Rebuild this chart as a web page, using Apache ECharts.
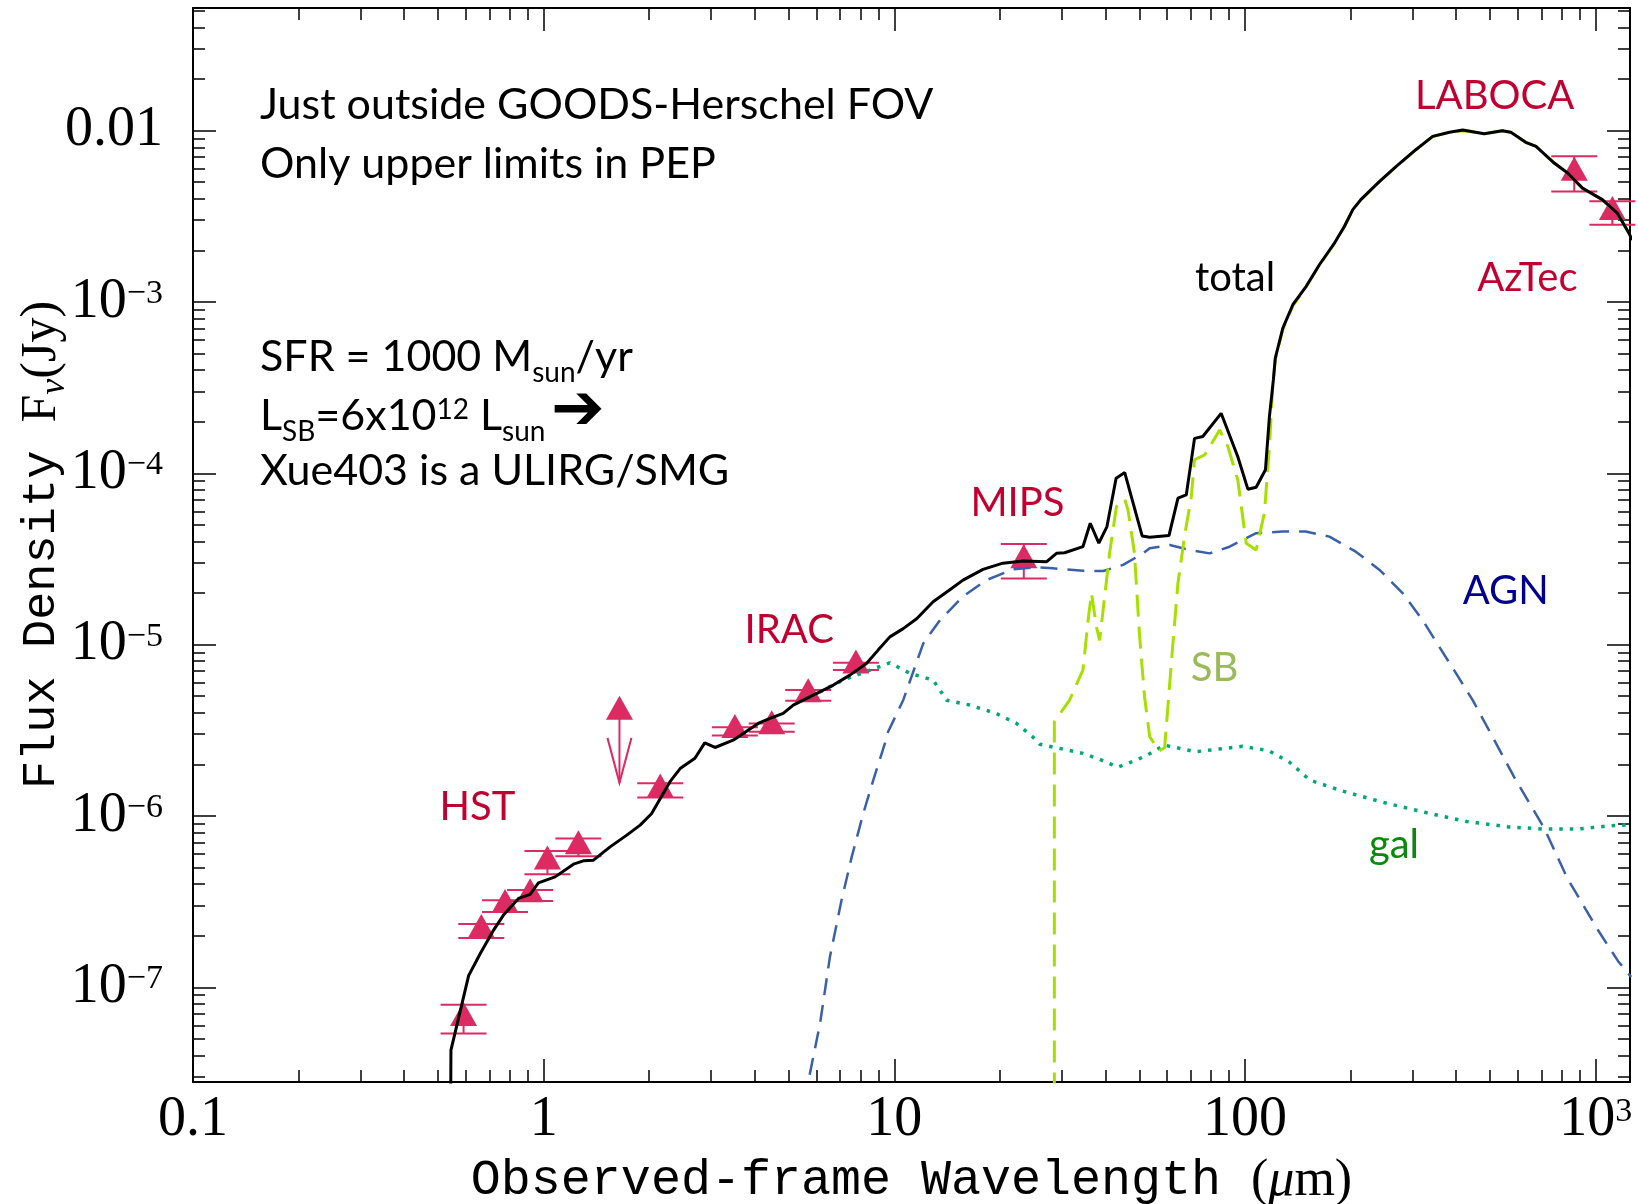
<!DOCTYPE html>
<html>
<head>
<meta charset="utf-8">
<script src="https://cdn.jsdelivr.net/npm/echarts@6.0.0/dist/echarts.min.js"></script>
<style>
html, body { margin: 0; padding: 0; background: #fff; }
#main { width: 1639px; height: 1204px; }
</style>
</head>
<body>
<div id="main"></div>
<script>
// axis ranges (wavelength in micron, flux density in Jy)
const xMin = 0.1, xMax = 1253;
const yMin = 2.8e-8, yMax = 0.052;

const xTickValues = [0.1, 1, 10, 100, 1000];
const xTickLabels = ['0.1', '1', '10', '100', '10{sup|3}'];
const yTickValues = [1e-7, 1e-6, 1e-5, 1e-4, 1e-3, 0.01];
const yTickLabels = ['10{sup|−7}', '10{sup|−6}', '10{sup|−5}', '10{sup|−4}', '10{sup|−3}', '0.01'];

// total model
const totalWave = [0.542, 0.544, 0.611, 0.659, 0.719, 0.768, 0.848, 0.915, 0.966, 1.078, 1.216, 1.298, 1.387,
  1.547, 1.726, 1.884, 2.03, 2.29, 2.45, 2.70, 2.88, 3.08, 3.47, 4.09, 4.42, 4.82, 5.15, 5.74, 6.70, 7.47,
  8.34, 8.99, 9.71, 10.6, 11.6, 12.9, 14.4, 15.7, 17.9, 20.4, 23.3, 27.2, 29.0, 30.6, 34.5, 36.2, 38.3,
  40.4, 42.9, 45.4, 50.9, 53.5, 60.7, 64.4, 68.0, 71.8, 75.8, 85.5, 95.4, 101.9, 107.6, 114.4, 117.4,
  120.5, 122, 128.2, 136.9, 149.3, 163, 180, 192, 203, 214, 242, 270, 307, 343, 383, 418, 481, 542, 573,
  632, 676, 762, 832, 917, 1045, 1153, 1245, 1270];
const totalFlux = [1e-8, 4.3e-8, 1.17e-7, 1.57e-7, 2.15e-7, 2.64e-7, 3.30e-7, 3.49e-7, 4.07e-7, 4.41e-7, 5.23e-7, 5.47e-7, 5.52e-7,
  6.60e-7, 7.73e-7, 8.84e-7, 1.03e-6, 1.58e-6, 1.89e-6, 2.17e-6, 2.67e-6, 2.51e-6, 2.77e-6, 3.47e-6, 3.71e-6, 3.97e-6, 4.44e-6, 4.96e-6, 5.81e-6, 6.64e-6,
  7.78e-6, 9.29e-6, 1.11e-5, 1.24e-5, 1.42e-5, 1.78e-5, 2.09e-5, 2.38e-5, 2.75e-5, 2.99e-5, 3.08e-5, 3.05e-5, 3.41e-5, 3.44e-5, 3.73e-5, 5.11e-5, 3.91e-5,
  4.89e-5, 9.36e-5, 1.01e-4, 4.31e-5, 4.23e-5, 4.33e-5, 7.16e-5, 7.48e-5, 1.60e-4, 1.64e-4, 2.24e-4, 1.25e-4, 8.08e-5, 8.29e-5, 1.05e-4, 2.14e-4,
  3.52e-4, 4.70e-4, 7.04e-4, 9.64e-4, 1.23e-3, 1.65e-3, 2.21e-3, 2.76e-3, 3.46e-3, 3.96e-3, 5.06e-3, 6.18e-3, 7.74e-3, 9.26e-3, 9.78e-3, 1.01e-2, 9.6e-3, 1.00e-2, 9.78e-3,
  8.55e-3, 8.10e-3, 6.47e-3, 5.66e-3, 4.62e-3, 3.96e-3, 3.30e-3, 2.52e-3, 2.30e-3];

// AGN component
const agnWave = [5.55, 5.68, 6.14, 6.55, 7.07, 7.56, 8.15, 8.71, 9.40, 9.60, 10.6, 12.1, 13.5, 15.7, 18.3, 21.8,
  25.4, 28.3, 34.5, 39.4, 44.9, 51.2, 53.5, 61.0, 69.5, 79.3, 90.4, 107.6, 128, 149, 174, 207, 242, 282,
  321, 358, 400, 446, 508, 589, 713, 830, 1015, 1159, 1262];
const agnFlux = [1.5e-8, 2.8e-8, 6.14e-8, 1.50e-7, 3.22e-7, 5.77e-7, 1.03e-6, 1.62e-6, 2.65e-6, 3.10e-6, 4.74e-6, 1.02e-5, 1.39e-5, 1.91e-5, 2.38e-5, 2.75e-5,
  2.83e-5, 2.79e-5, 2.70e-5, 2.69e-5, 2.92e-5, 3.41e-5, 3.65e-5, 3.82e-5, 3.57e-5, 3.41e-5, 3.73e-5, 4.47e-5, 4.57e-5, 4.57e-5, 4.27e-5, 3.49e-5, 2.73e-5, 1.99e-5,
  1.39e-5, 9.73e-6, 6.79e-6, 4.74e-6, 2.90e-6, 1.65e-6, 8.5e-7, 4.34e-7, 2.16e-7, 1.42e-7, 1.15e-7];

// starburst component
const sbWave = [28.6, 28.6, 31.6, 34.5, 35.7, 36.5, 37.7, 38.5, 39.8, 41.1, 43.0, 45.4, 46.4, 48.4, 50.0, 51.7,
  53.5, 56.9, 59.0, 62.0, 64.4, 67.5, 70.3, 71.8, 76.7, 84.7, 89.4, 95.4, 100.8, 107.6, 113.6, 117.4, 120.0,
  122, 128.2, 136.9, 149.3, 163, 180, 192, 203, 214, 242, 270, 307, 343, 383, 418, 481, 542, 573, 632, 676,
  762, 832, 917, 1045, 1153, 1245, 1270];
const sbFlux = [1e-8, 3.55e-6, 4.74e-6, 7.11e-6, 1.39e-5, 2.00e-5, 1.27e-5, 1.06e-5, 1.91e-5, 3.41e-5, 6.39e-5, 7.06e-5, 6.11e-5, 3.41e-5, 1.16e-5, 4.97e-6,
  2.90e-6, 2.40e-6, 2.5e-6, 9e-6, 2.3e-5, 4.5e-5, 7.3e-5, 1.20e-4, 1.28e-4, 1.79e-4, 1.43e-4, 9.14e-5, 3.91e-5, 3.57e-5, 5.85e-5, 1.43e-4, 3.21e-4,
  4.6e-4, 6.9e-4, 9.5e-4, 1.22e-3, 1.64e-3, 2.2e-3, 2.75e-3, 3.45e-3, 3.95e-3, 5.05e-3, 6.17e-3, 7.73e-3, 9.25e-3, 9.77e-3, 1.0e-2, 9.6e-3, 9.98e-3, 9.77e-3, 8.54e-3, 8.09e-3,
  6.46e-3, 5.65e-3, 4.61e-3, 3.95e-3, 3.29e-3, 2.51e-3, 2.29e-3];

// host galaxy component
const galWave = [5.74, 6.14, 7.14, 8.53, 9.71, 11.1, 12.9, 14.1, 16.4, 19.5, 22.3, 24.8, 26.0, 29.0, 34.5, 38.5,
  43.4, 49.0, 52.8, 58.9, 72.3, 98.4, 117, 134, 153, 189, 248, 326, 429, 565, 718, 881, 1082, 1260];
const galFlux = [4.96e-6, 5.31e-6, 6.21e-6, 7.11e-6, 7.83e-6, 6.79e-6, 6.21e-6, 4.74e-6, 4.44e-6, 3.97e-6, 3.47e-6, 2.9e-6, 2.62e-6, 2.5e-6, 2.32e-6, 2.14e-6,
  1.93e-6, 2.12e-6, 2.27e-6, 2.59e-6, 2.37e-6, 2.55e-6, 2.40e-6, 2.06e-6, 1.62e-6, 1.40e-6, 1.20e-6, 1.05e-6, 9.28e-7, 8.63e-7, 8.38e-7, 8.38e-7, 8.73e-7, 8.9e-7];

// photometry: HST, IRAC, MIPS, LABOCA, AzTec
const photWave = [0.591, 0.664, 0.776, 0.915, 1.025, 1.256, 2.15, 3.51, 4.47, 5.68, 7.77, 23.4, 869, 1116];
const photFlux = [6.53e-8, 2.13e-7, 2.98e-7, 3.44e-7, 5.35e-7, 6.56e-7, 1.41e-6, 3.13e-6, 3.29e-6, 5.06e-6, 7.46e-6, 3.07e-5, 5.61e-3, 3.31e-3];
const photLo = [5.37e-8, 1.94e-7, 2.75e-7, 3.19e-7, 4.57e-7, 5.82e-7, 1.28e-6, 2.95e-6, 3.10e-6, 4.70e-6, 7.11e-6, 2.43e-5, 4.42e-3, 2.82e-3];
const photHi = [7.9e-8, 2.34e-7, 3.22e-7, 3.70e-7, 6.25e-7, 7.38e-7, 1.55e-6, 3.3e-6, 3.47e-6, 5.43e-6, 7.83e-6, 3.87e-5, 7.08e-3, 3.87e-3];

// upper limit
const ulWave = [1.645];
const ulFlux = [4.0e-6];
const ulTip = [1.56e-6];

const SANS = 'Lato, "Open Sans", sans-serif';
const SERIF = '"Liberation Serif", "DejaVu Serif", serif';
const MONO = '"Liberation Mono", "DejaVu Sans Mono", monospace';
const MAGENTA = '#dc2a62';
const CRIMSON = '#c00030';
const CAP = 23;

function pairs(xs, ys) { return xs.map(function (x, i) { return [x, ys[i]]; }); }

function tickFormatter(values, labels) {
  return function (v) {
    for (let i = 0; i < values.length; i++) {
      if (Math.abs(Math.log10(v) - Math.log10(values[i])) < 1e-6) return labels[i];
    }
    return '';
  };
}

const axisLineStyle = { color: '#000', width: 2 };
const tickStyle = { color: '#000', width: 1.5 };

function baseAxis(extra) {
  return Object.assign({
    type: 'log', logBase: 10,
    axisLine: { show: true, onZero: false, lineStyle: axisLineStyle },
    axisTick: { show: true, inside: true, length: 23, lineStyle: tickStyle },
    minorTick: { show: true, splitNumber: 9, length: 12, lineStyle: tickStyle },
    splitLine: { show: false },
    minorSplitLine: { show: false }
  }, extra);
}

const labelRich = {
  sup: { fontFamily: SERIF, fontSize: 34, lineHeight: 30, padding: [0, 0, 16, 0], color: '#000' }
};

// baseline-anchored text (y given as glyph baseline)
function txt(x, baseline, text, size, color, align) {
  return {
    type: 'text', x: x, y: baseline + 4 - 0.387 * size, z: 100,
    style: { text: text, fontFamily: SANS, fontSize: size, fill: color, textAlign: align || 'left', verticalAlign: 'middle' }
  };
}

const noteRich = {
  a: { fontFamily: SANS, fontSize: 43, lineHeight: 60, color: '#000' },
  b: { fontFamily: SANS, fontSize: 28, lineHeight: 28, padding: [32, 0, 0, 0], color: '#000' },
  c: { fontFamily: SANS, fontSize: 28, lineHeight: 28, padding: [10, 0, 22, 0], color: '#000' }
};
function richTxt(x, baseline, text) {
  return {
    type: 'text', x: x, y: baseline + 4 - 0.387 * 43, z: 100,
    style: { text: text, rich: noteRich, textAlign: 'left', verticalAlign: 'middle' }
  };
}

const option = {
  animation: false,
  backgroundColor: '#fff',
  grid: { left: 193, top: 8, width: 1437, height: 1074, outerBoundsMode: 'none' },
  xAxis: [
    baseAxis({
      position: 'bottom', min: xMin, max: xMax,
      axisLabel: {
        formatter: tickFormatter(xTickValues, xTickLabels), margin: 8,
        fontFamily: SERIF, fontSize: 56, lineHeight: 60, color: '#000', rich: labelRich
      },
      name: '{tt|Observed-frame Wavelength }{rm|(}{it|μ}{rm|m)}',
      nameLocation: 'middle', nameGap: 71,
      nameTextStyle: {
        rich: {
          tt: { fontFamily: MONO, fontSize: 50, lineHeight: 56, color: '#000' },
          rm: { fontFamily: SERIF, fontSize: 52, lineHeight: 56, color: '#000' },
          it: { fontFamily: SERIF, fontStyle: 'italic', fontSize: 52, lineHeight: 56, color: '#000' }
        }
      }
    }),
    baseAxis({ position: 'top', min: xMin, max: xMax, axisLabel: { show: false } })
  ],
  yAxis: [
    baseAxis({
      position: 'left', min: yMin, max: yMax,
      axisLabel: {
        formatter: tickFormatter(yTickValues, yTickLabels), margin: 30,
        fontFamily: SERIF, fontSize: 56, lineHeight: 60, color: '#000', rich: labelRich
      },
      name: '{tt|Flux Density }{rm|F}{sub|ν}{rm|(Jy)}',
      nameLocation: 'middle', nameGap: 123, nameRotate: 90, nameMoveOverlap: false,
      nameTextStyle: {
        rich: {
          tt: { fontFamily: MONO, fontSize: 47, lineHeight: 56, color: '#000' },
          rm: { fontFamily: SERIF, fontSize: 50, lineHeight: 56, color: '#000' },
          sub: { fontFamily: SERIF, fontStyle: 'italic', fontSize: 36, lineHeight: 30, padding: [26, 0, 0, 0], color: '#000' }
        }
      }
    }),
    baseAxis({ position: 'right', min: yMin, max: yMax, axisLabel: { show: false } })
  ],
  series: [
    {
      name: 'gal', type: 'line', data: pairs(galWave, galFlux), symbol: 'none', silent: true,
      lineStyle: { color: '#00a878', width: 3.5, type: [3.5, 7] }
    },
    {
      name: 'AGN', type: 'line', data: pairs(agnWave, agnFlux), symbol: 'none', silent: true,
      lineStyle: { color: '#3a60a8', width: 2.5, type: [17, 10] }
    },
    {
      name: 'SB', type: 'line', data: pairs(sbWave, sbFlux), symbol: 'none', silent: true,
      lineStyle: { color: '#a6df00', width: 3, type: [22, 10] }
    },
    {
      name: 'errors', type: 'custom', silent: true,
      data: photWave.map(function (w, i) { return [w, photFlux[i], photLo[i], photHi[i]]; }),
      encode: { x: 0, y: [1, 2, 3] },
      renderItem: function (params, api) {
        const x = api.value(0);
        const pLo = api.coord([x, api.value(2)]);
        const pHi = api.coord([x, api.value(3)]);
        const st = { stroke: MAGENTA, lineWidth: 2 };
        return {
          type: 'group',
          children: [
            { type: 'line', shape: { x1: pLo[0], y1: pLo[1], x2: pHi[0], y2: pHi[1] }, style: st },
            { type: 'line', shape: { x1: pLo[0] - CAP, y1: pLo[1], x2: pLo[0] + CAP, y2: pLo[1] }, style: st },
            { type: 'line', shape: { x1: pHi[0] - CAP, y1: pHi[1], x2: pHi[0] + CAP, y2: pHi[1] }, style: st }
          ]
        };
      }
    },
    {
      name: 'upper limit', type: 'custom', silent: true,
      data: ulWave.map(function (w, i) { return [w, ulFlux[i], ulTip[i]]; }),
      encode: { x: 0, y: [1, 2] },
      renderItem: function (params, api) {
        const x = api.value(0);
        const p0 = api.coord([x, api.value(1)]);
        const p1 = api.coord([x, api.value(2)]);
        const st = { stroke: MAGENTA, lineWidth: 2, fill: null };
        return {
          type: 'group',
          children: [
            { type: 'line', shape: { x1: p0[0], y1: p0[1], x2: p1[0], y2: p1[1] }, style: st },
            { type: 'polyline', shape: { points: [[p1[0] - 12, p1[1] - 45], [p1[0], p1[1]], [p1[0] + 12, p1[1] - 45]] }, style: st }
          ]
        };
      }
    },
    {
      name: 'photometry', type: 'scatter', silent: true,
      data: pairs(photWave, photFlux).concat(pairs(ulWave, ulFlux)),
      symbol: 'triangle', symbolSize: [27, 24], symbolOffset: [0, -5],
      itemStyle: { color: MAGENTA, opacity: 1 }
    },
    {
      name: 'total', type: 'line', data: pairs(totalWave, totalFlux), symbol: 'none', silent: true,
      lineStyle: { color: '#000', width: 3 }
    }
  ],
  graphic: [
    txt(260, 118, 'Just outside GOODS-Herschel FOV', 43, '#000'),
    txt(260, 176.7, 'Only upper limits in PEP', 43, '#000'),
    richTxt(260, 370, '{a|SFR = 1000 M}{b|sun}{a|/yr}'),
    richTxt(260, 428.3, '{a|L}{b|SB}{a|=6x10}{c|12}{a| L}{b|sun}'),
    txt(260, 483.3, 'Xue403 is a ULIRG/SMG', 43, '#000'),
    {
      type: 'text', x: 551, y: 412, z: 100,
      style: { text: '➔', fontFamily: '"DejaVu Sans"', fontWeight: 'bold', fontSize: 64, fill: '#000', textAlign: 'left', verticalAlign: 'middle' }
    },
    txt(1494.7, 107.3, 'LABOCA', 40, CRIMSON, 'center'),
    txt(1527.4, 290, 'AzTec', 40, CRIMSON, 'center'),
    txt(1235, 290, 'total', 40, '#000', 'center'),
    txt(1017.5, 514.3, 'MIPS', 40, CRIMSON, 'center'),
    txt(789.2, 641.7, 'IRAC', 40, CRIMSON, 'center'),
    txt(477.5, 818.3, 'HST', 40, CRIMSON, 'center'),
    txt(1505.8, 602.7, 'AGN', 40, '#00008e', 'center'),
    txt(1214.5, 680, 'SB', 40, '#9bbb59', 'center'),
    txt(1394, 857, 'gal', 40, '#0a8a0a', 'center')
  ]
};

const chart = echarts.init(document.getElementById('main'), null, { renderer: 'canvas' });
chart.setOption(option);
</script>
</body>
</html>
